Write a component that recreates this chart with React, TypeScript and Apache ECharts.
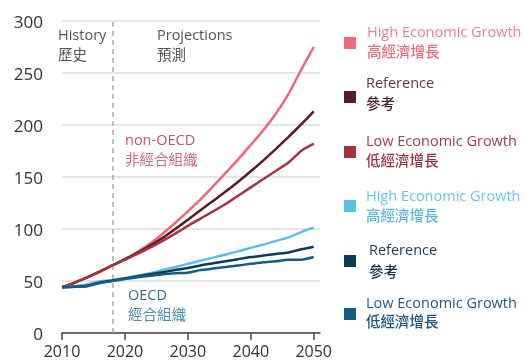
import React, { useEffect, useRef } from "react";
import * as echarts from "echarts";

// Years sampled every two years, 2010–2050
const years = [
  2010, 2012, 2014, 2016, 2018, 2020, 2022, 2024, 2026, 2028, 2030,
  2032, 2034, 2036, 2038, 2040, 2042, 2044, 2046, 2048, 2050,
];

// non-OECD (非經合組織)
const nonOecdHigh = [44, 48.5, 53.5, 59, 65, 71, 78, 86, 95.5, 106, 117, 128.5, 141, 154, 167, 181, 195, 211, 230, 253, 275];
const nonOecdReference = [44, 48.5, 53.5, 59, 65, 71, 77, 84, 91.5, 100, 109, 118, 127, 136, 145.5, 155.5, 166, 177, 188.5, 200.5, 213];
const nonOecdLow = [44, 48.5, 53.5, 59, 65, 70.5, 76, 82, 88.5, 95.5, 103, 110, 117, 124, 132, 140, 148, 156, 164, 175, 182];

// OECD (經合組織)
const oecdHigh = [44, 45, 47, 49.5, 51, 53, 55, 57.5, 60.5, 63.5, 66.5, 69.5, 72.5, 75.5, 78.5, 82, 85, 88.5, 92, 97, 101.5];
const oecdReference = [44, 44.5, 45.5, 48.5, 50.5, 52.5, 54.5, 56.5, 58.5, 60.5, 62.5, 65, 67, 69, 71, 73, 74.5, 76, 77.5, 80.5, 83];
const oecdLow = [44, 44.5, 45, 48, 50, 52, 53.5, 55, 56.5, 57.5, 58, 60.5, 62, 63.5, 65, 66.5, 68, 69, 70.5, 70.5, 73];

const xTicks = [2010, 2020, 2030, 2040, 2050];
const historyEnd = 2018;

const seriesDefs = [
  { name: "non-OECD High", data: nonOecdHigh, color: "#EE6878" },
  { name: "non-OECD Reference", data: nonOecdReference, color: "#5B1A26" },
  { name: "non-OECD Low", data: nonOecdLow, color: "#A33441" },
  { name: "OECD High", data: oecdHigh, color: "#5BBFEC" },
  { name: "OECD Reference", data: oecdReference, color: "#0E3A55" },
  { name: "OECD Low", data: oecdLow, color: "#165C82" },
];

// Two-line bilingual legend entries: square colour, English line, Chinese line
const legendItems = [
  { en: "High Economic Growth", zh: "高經濟增長", color: "#EE6B7A", enColor: "#F07F8E", zhColor: "#E96E7E", y: 31.5, zy: 50.5, sy: 37, tx: 367 },
  { en: "Reference", zh: "參考", color: "#5B1A26", enColor: "#5A3A3E", zhColor: "#4A252B", y: 82, zy: 102, sy: 91, tx: 366 },
  { en: "Low Economic Growth", zh: "低經濟增長", color: "#A33441", enColor: "#A83D4A", zhColor: "#A0323F", y: 140, zy: 159.5, sy: 146, tx: 366 },
  { en: "High Economic Growth", zh: "高經濟增長", color: "#5BBFEC", enColor: "#6CC4EE", zhColor: "#5AB8E8", y: 195, zy: 214.5, sy: 200, tx: 366 },
  { en: "Reference", zh: "參考", color: "#0E3A55", enColor: "#1E3A4E", zhColor: "#183245", y: 249, zy: 270, sy: 255, tx: 369 },
  { en: "Low Economic Growth", zh: "低經濟增長", color: "#165C82", enColor: "#1A5C80", zhColor: "#17557A", y: 302, zy: 320.5, sy: 308, tx: 366 },
];

const LATIN = "'Open Sans', 'Noto Sans CJK TC', sans-serif";
const CJK = "'Noto Sans CJK TC', 'Open Sans', sans-serif";

export default function App() {
  const ref = useRef<HTMLDivElement>(null);

  useEffect(() => {
    if (!ref.current) return;
    const chart = echarts.init(ref.current, undefined, { renderer: "svg" });

    const graphics: any[] = [];
    const addText = (
      text: string,
      x: number,
      y: number,
      color: string,
      font: string,
      size: number,
      weight: any = "normal"
    ) => {
      graphics.push({
        type: "text",
        x,
        y,
        silent: true,
        style: { text, fill: color, fontFamily: font, fontSize: size, fontWeight: weight, align: "left", verticalAlign: "middle" },
      });
    };

    // English line over Chinese line
    const addPair = (
      en: string,
      zh: string,
      x: number,
      enY: number,
      zhY: number,
      enColor: string,
      zhColor: string,
      zhWeight: any = "normal"
    ) => {
      addText(en, x, enY, enColor, LATIN, 14.5);
      addText(zh, x, zhY, zhColor, CJK, 14.5, zhWeight);
    };

    addPair("History", "歷史", 58, 34, 53, "#555555", "#555555");
    addPair("Projections", "預測", 157, 34, 53, "#555555", "#555555");
    addPair("non-OECD", "非經合組織", 125, 139.5, 158, "#C45468", "#D06A7C");
    addPair("OECD", "經合組織", 128, 294.5, 313, "#2F6D92", "#4A8DB5");

    legendItems.forEach((it) => {
      graphics.push({
        type: "rect",
        silent: true,
        shape: { x: 344, y: it.sy, width: 12, height: 12 },
        style: { fill: it.color },
      });
      addPair(it.en, it.zh, it.tx, it.y, it.zy, it.enColor, it.zhColor, 500);
    });

    chart.setOption({
      animation: false,
      grid: { left: 62, right: 207, top: 21, bottom: 28, containLabel: false, outerBoundsMode: "none" },
      xAxis: {
        type: "value",
        min: 2010,
        max: 2051,
        interval: 10,
        axisLine: { show: true, lineStyle: { color: "#444", width: 1.5 } },
        axisTick: { show: true, length: 7, lineStyle: { color: "#444", width: 1.5 }, customValues: xTicks },
        axisLabel: {
          customValues: xTicks,
          color: "#333",
          fontFamily: LATIN,
          fontSize: 16,
          margin: 10,
          formatter: (v: number) => String(v),
        },
        splitLine: { show: false },
      },
      yAxis: {
        type: "value",
        min: 0,
        max: 300,
        interval: 50,
        axisLine: { show: false },
        axisTick: { show: false },
        axisLabel: { color: "#333", fontFamily: LATIN, fontSize: 17, margin: 19 },
        splitLine: { lineStyle: { color: "#dcdcdc", width: 1.5 } },
      },
      graphic: graphics,
      series: seriesDefs.map((s, idx) => ({
        name: s.name,
        type: "line",
        data: years.map((y, i) => [y, s.data[i]]),
        showSymbol: false,
        smooth: 0.2,
        lineStyle: { color: s.color, width: 2.5 },
        z: 3 + idx,
        markLine:
          idx === 0
            ? {
                silent: true,
                symbol: "none",
                label: { show: false },
                lineStyle: { color: "#aaaaaa", type: [5, 4], width: 1.5 },
                data: [[{ coord: [historyEnd, 0] }, { coord: [historyEnd, 300] }]],
              }
            : undefined,
      })),
    });

    return () => chart.dispose();
  }, []);

  return <div ref={ref} style={{ position: "fixed", left: 0, top: 0, width: 527, height: 361 }} />;
}
